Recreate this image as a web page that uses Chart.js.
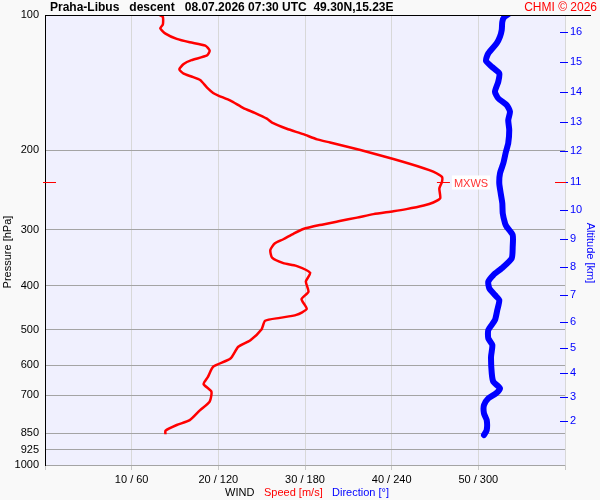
<!DOCTYPE html>
<html>
<head>
<meta charset="utf-8">
<script src="https://cdn.jsdelivr.net/npm/chart.js@4.4.1/dist/chart.umd.min.js"></script>
<style>
  html, body { margin: 0; padding: 0; background: #f9f9f9; }
  #wind { display: block; }
</style>
</head>
<body>
<canvas id="wind" width="600" height="500"></canvas>
<script>
// wind speed profile (m/s) against pressure (hPa)
const speedPressure = [100, 101, 105, 107, 110, 113, 115, 117, 120, 123, 126, 128.5, 132, 135, 137, 139.5, 145, 149, 151, 155,
  161, 165, 170, 173.5, 179, 184, 189, 192, 199.5, 209, 219, 223, 229, 235, 243, 255.5, 261, 265, 270, 273,
  277, 282, 287, 293, 299, 306, 315, 322, 333, 346, 356, 361, 374, 391, 412, 428, 450, 464, 471, 478,
  499, 528, 546, 580, 605, 637, 661, 687, 723, 755, 795, 815, 839, 854];
const speedValues = [13.2, 13.6, 13.6, 13.3, 13.9, 15.2, 16.7, 18.5, 19.0, 18.7, 16.9, 16.0, 15.5, 16.0, 16.9, 17.9, 18.7, 19.4, 20.0, 21.4,
  22.9, 24.2, 25.6, 26.2, 27.9, 29.8, 31.4, 32.9, 36.4, 40.2, 43.7, 44.8, 45.8, 45.8, 45.5, 45.6, 44.8, 43.7, 41.7, 40.2,
  37.9, 36.0, 34.0, 31.7, 29.8, 28.7, 27.5, 26.5, 26.0, 26.2, 27.5, 29.0, 30.6, 30.1, 30.4, 29.6, 30.2, 29.0, 27.1, 25.4,
  25.0, 23.7, 22.3, 21.4, 19.4, 18.8, 18.3, 19.2, 19.0, 17.9, 16.7, 15.2, 13.9, 13.9];

// wind direction profile (deg)
const dirPressure = [99, 101, 103.5, 108, 111.7, 115.6, 121.7, 126.4, 130.3, 134.8, 140.7, 148.1, 153.2, 158.5, 164, 171.2, 180.1, 192.8, 201.3, 213.6,
  224.8, 236.6, 249.1, 262.1, 275.9, 290.4, 295.5, 308.3, 327.3, 347.3, 365.5, 378.3, 391.5, 405, 419.1, 430, 452.6, 476.3, 501.3, 523.1,
  541.3, 574.7, 625.7, 653.2, 675.6, 693.1, 711.1, 735.9, 767.9, 794.6, 836.4, 858];
const dirValues = [322, 318, 316.6, 316.2, 315, 312.7, 306.9, 305.3, 309.3, 314.5, 313.8, 311.5, 313.8, 319.6, 321.9, 320.7, 321.4, 320.7, 319.1, 317.3,
  315, 314.5, 315.5, 316.6, 316.9, 318.5, 319.6, 323.8, 323.8, 323.1, 316.2, 310.4, 306.9, 307.6, 311.5, 314.5, 313.1, 311.5, 306.9, 306.9,
  309.7, 308.8, 309.3, 310.4, 315, 312.2, 306.9, 303.9, 303.9, 305.8, 305.8, 303.9];

// max wind
const maxWind = 45.8;
const maxWindPressure = 235;

// axes
const speedGrid = [0, 10, 20, 30, 40, 50, 60];
const xTickLabels = ['', '10 / 60', '20 / 120', '30 / 180', '40 / 240', '50 / 300', ''];
const pressureTicks = [100, 200, 300, 400, 500, 600, 700, 850, 925, 1000];
const altitudeKm = [2, 3, 4, 5, 6, 7, 8, 9, 10, 11, 12, 13, 14, 15, 16];
const altitudePressure = [797.5, 705.3, 625.7, 548.8, 480.5, 419.1, 363.7, 314.7, 271.7, 234.7, 200.6, 173.2, 148.5, 127.0, 109.3];

const FONT = 'Arial, "Liberation Sans", sans-serif';
const RED = '#ff0000';
const BLUE = '#0000ff';

const extras = {
  id: 'extras',
  beforeDraw(chart) {
    const { ctx, chartArea: a } = chart;
    ctx.save();
    ctx.fillStyle = '#f9f9f9';
    ctx.fillRect(0, 0, chart.width, chart.height);
    ctx.fillStyle = '#f0f0fe';
    ctx.fillRect(a.left, a.top, a.right - a.left, a.bottom - a.top);
    ctx.restore();
  },
  afterDraw(chart) {
    const { ctx, chartArea: a, scales } = chart;
    ctx.save();
    // top frame line
    ctx.strokeStyle = '#000';
    ctx.lineWidth = 1;
    ctx.beginPath();
    ctx.moveTo(a.left, a.top + 0.5);
    ctx.lineTo(591, a.top + 0.5);
    ctx.stroke();

    // altitude ticks
    ctx.strokeStyle = BLUE;
    altitudePressure.forEach(p => {
      const y = Math.round(scales.y2.getPixelForValue(p)) + 0.5;
      ctx.beginPath();
      ctx.moveTo(a.right - 5, y);
      ctx.lineTo(a.right + 3, y);
      ctx.stroke();
    });

    // MXWS marks
    const my = Math.round(scales.y.getPixelForValue(maxWindPressure)) + 0.5;
    const mx = scales.x.getPixelForValue(maxWind);
    ctx.strokeStyle = RED;
    ctx.beginPath();
    ctx.moveTo(mx - 5, my); ctx.lineTo(mx + 8, my);
    ctx.moveTo(a.left - 2, my); ctx.lineTo(a.left + 11, my);
    ctx.moveTo(a.right - 10, my); ctx.lineTo(a.right + 1, my);
    ctx.stroke();
    ctx.font = '11px ' + FONT;
    ctx.textBaseline = 'middle';
    const w = ctx.measureText('MXWS').width;
    ctx.fillStyle = '#ffffff';
    ctx.fillRect(mx + 10, my - 7, w + 4, 14);
    ctx.fillStyle = '#ff3333';
    ctx.fillText('MXWS', mx + 12, my + 1);

    // header
    ctx.fillStyle = '#000';
    ctx.font = 'bold 12px ' + FONT;
    ctx.textAlign = 'left';
    ctx.fillText('Praha-Libus   descent   08.07.2026 07:30 UTC  49.30N,15.23E', 50, 8);
    ctx.font = '12px ' + FONT;
    ctx.fillStyle = RED;
    ctx.textAlign = 'right';
    ctx.fillText('CHMI \u00a9 2026', 597, 8);

    // bottom legend
    ctx.font = '11px ' + FONT;
    ctx.textAlign = 'left';
    ctx.fillStyle = '#000';
    ctx.fillText('WIND', 225, 493);
    ctx.fillStyle = RED;
    ctx.fillText('Speed [m/s]', 264, 493);
    ctx.fillStyle = BLUE;
    ctx.fillText('Direction [\u00b0]', 332, 493);

    // axis titles
    ctx.textAlign = 'center';
    ctx.fillStyle = '#000';
    ctx.translate(8, 252);
    ctx.rotate(-Math.PI / 2);
    ctx.fillText('Pressure [hPa]', 0, 0);
    ctx.setTransform(1, 0, 0, 1, 0, 0);
    ctx.fillStyle = BLUE;
    ctx.translate(590, 253);
    ctx.rotate(Math.PI / 2);
    ctx.fillText('Altitude [km]', 0, 0);
    ctx.restore();
  }
};

new Chart(document.getElementById('wind'), {
  type: 'scatter',
  data: {
    datasets: [
      {
        label: 'Speed',
        data: speedPressure.map((p, i) => ({ x: speedValues[i], y: p })),
        xAxisID: 'x',
        yAxisID: 'y',
        showLine: true,
        borderColor: RED,
        borderWidth: 2.5,
        pointRadius: 0,
        tension: 0.2
      },
      {
        label: 'Direction',
        data: dirPressure.map((p, i) => ({ x: dirValues[i], y: p })),
        xAxisID: 'x2',
        yAxisID: 'y',
        showLine: true,
        borderColor: BLUE,
        borderWidth: 6,
        borderCapStyle: 'round',
        borderJoinStyle: 'round',
        pointRadius: 0,
        tension: 0.2
      }
    ]
  },
  options: {
    responsive: false,
    animation: false,
    devicePixelRatio: 1,
    layout: { padding: { top: 15, left: 0, right: 0, bottom: 0 } },
    plugins: { legend: { display: false }, tooltip: { enabled: false } },
    scales: {
      x: {
        type: 'linear',
        position: 'bottom',
        min: 0,
        max: 60,
        afterBuildTicks: s => { s.ticks = speedGrid.map(v => ({ value: v })); },
        afterFit: s => { s.height = 35; },
        grid: { color: '#d8d8d8', tickLength: 5, tickColor: '#c8c8c8' },
        border: { display: false },
        ticks: {
          autoSkip: false,
          maxRotation: 0,
          padding: 3,
          color: '#000',
          font: { family: FONT, size: 11 },
          callback: v => xTickLabels[speedGrid.indexOf(v)] || ''
        }
      },
      x2: { type: 'linear', display: false, min: 0, max: 360 },
      y: {
        type: 'logarithmic',
        position: 'left',
        reverse: true,
        min: 100,
        max: 1000,
        afterBuildTicks: s => { s.ticks = pressureTicks.map(v => ({ value: v })); },
        afterFit: s => { s.width = 45; },
        grid: {
          drawTicks: false,
          color: c => (c.tick && c.tick.value === 100) ? 'rgba(0,0,0,0)' : '#a4a4a4'
        },
        border: { display: true, color: '#000', width: 1 },
        ticks: {
          autoSkip: false,
          padding: 6,
          color: '#000',
          font: { family: FONT, size: 11 },
          callback: v => String(v)
        }
      },
      y2: {
        type: 'logarithmic',
        position: 'right',
        reverse: true,
        min: 100,
        max: 1000,
        afterBuildTicks: s => { s.ticks = altitudePressure.map(v => ({ value: v })); },
        afterFit: s => { s.width = 35; },
        grid: { display: false, drawTicks: false },
        border: { display: false },
        ticks: {
          autoSkip: false,
          padding: 5,
          color: BLUE,
          font: { family: FONT, size: 11 },
          callback: v => String(altitudeKm[altitudePressure.indexOf(v)])
        }
      }
    }
  },
  plugins: [extras]
});
</script>
</body>
</html>
